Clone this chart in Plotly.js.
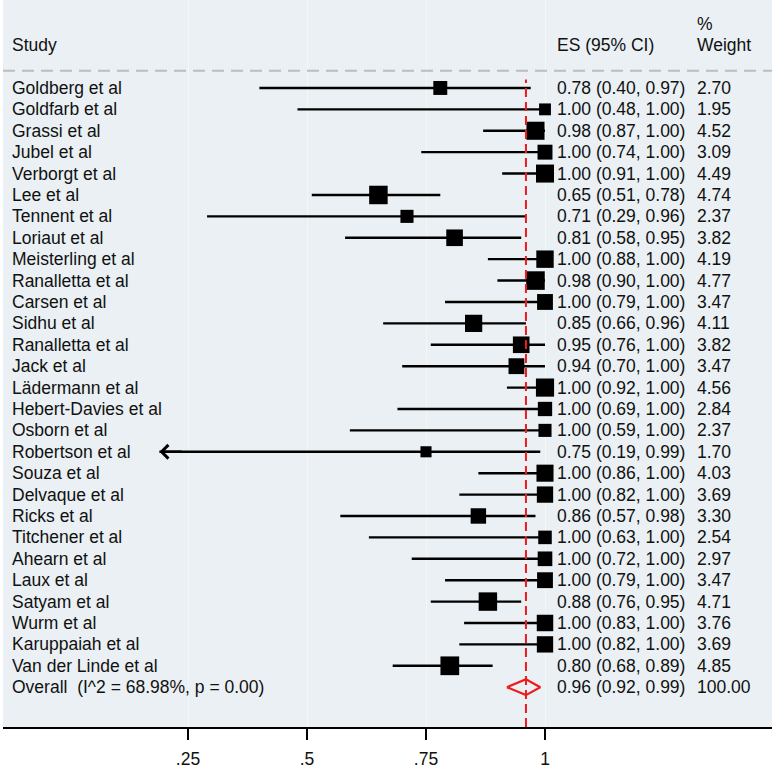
<!DOCTYPE html>
<html>
<head>
<meta charset="utf-8">
<script src="https://cdn.plot.ly/plotly-3.0.1.min.js"></script>
<style>html,body{margin:0;padding:0;background:#fff;}#chart{width:774px;height:772px;}</style>
</head>
<body>
<div id="chart"></div>
<script>
// ---- data ----
const studies = ["Goldberg et al","Goldfarb et al","Grassi et al","Jubel et al","Verborgt et al","Lee et al","Tennent et al","Loriaut et al","Meisterling et al","Ranalletta et al","Carsen et al","Sidhu et al","Ranalletta et al","Jack et al","Lädermann et al","Hebert-Davies et al","Osborn et al","Robertson et al","Souza et al","Delvaque et al","Ricks et al","Titchener et al","Ahearn et al","Laux et al","Satyam et al","Wurm et al","Karuppaiah et al","Van der Linde et al"];
const es    = [0.78,1.00,0.98,1.00,1.00,0.65,0.71,0.81,1.00,0.98,1.00,0.85,0.95,0.94,1.00,1.00,1.00,0.75,1.00,1.00,0.86,1.00,1.00,1.00,0.88,1.00,1.00,0.80];
const ciLow = [0.40,0.48,0.87,0.74,0.91,0.51,0.29,0.58,0.88,0.90,0.79,0.66,0.76,0.70,0.92,0.69,0.59,0.19,0.86,0.82,0.57,0.63,0.72,0.79,0.76,0.83,0.82,0.68];
const ciHigh= [0.97,1.00,1.00,1.00,1.00,0.78,0.96,0.95,1.00,1.00,1.00,0.96,1.00,1.00,1.00,1.00,1.00,0.99,1.00,1.00,0.98,1.00,1.00,1.00,0.95,1.00,1.00,0.89];
const weights=[2.70,1.95,4.52,3.09,4.49,4.74,2.37,3.82,4.19,4.77,3.47,4.11,3.82,3.47,4.56,2.84,2.37,1.70,4.03,3.69,3.30,2.54,2.97,3.47,4.71,3.76,3.69,4.85];
const overallLabel = "Overall  (I^2 = 68.98%, p = 0.00)";
const overallES = 0.96, overallLow = 0.92, overallHigh = 0.99, overallWeight = "100.00";
const tickVals = [0.25,0.5,0.75,1];
const tickText = [".25",".5",".75","1"];

// ---- build ----
const n = studies.length;
const rows = studies.map((_, i) => i);
const overallRow = n;
const fmt = v => v.toFixed(2);

const ciX = [], ciY = [];
for (let i = 0; i < n; i++) { ciX.push(ciLow[i], ciHigh[i], null); ciY.push(i, i, null); }

const font = "Liberation Sans, Arial, sans-serif";
const fs = 17.5;
const colStudy = -0.121, colES = 1.024, colW = 1.318;

const annotations = [];
function txt(x, y, t) {
  annotations.push({x: x, y: y, xref: 'x', yref: 'y', text: t, showarrow: false,
    xanchor: 'left', yanchor: 'middle', font: {family: font, size: fs, color: '#111'}, borderpad: 0});
}
txt(colStudy, -2, "Study");
txt(colES, -2, "ES (95% CI)");
txt(colW, -3, "%");
txt(colW, -2, "Weight");
for (let i = 0; i < n; i++) {
  txt(colStudy, i, studies[i]);
  txt(colES, i, fmt(es[i]) + " (" + fmt(ciLow[i]) + ", " + fmt(ciHigh[i]) + ")");
  txt(colW, i, weights[i].toFixed(2));
}
txt(colStudy, overallRow, overallLabel);
txt(colES, overallRow, fmt(overallES) + " (" + fmt(overallLow) + ", " + fmt(overallHigh) + ")");
txt(colW, overallRow, overallWeight);

// arrows for CIs truncated below the first tick
for (let i = 0; i < n; i++) {
  if (ciLow[i] < tickVals[0]) {
    annotations.push({x: ciLow[i], y: i, ax: ciLow[i] + 0.05, ay: i, xref: 'x', yref: 'y', axref: 'x', ayref: 'y',
      text: '', showarrow: true, arrowhead: 4, arrowsize: 1.1, arrowwidth: 2.4, arrowcolor: '#000'});
  }
}

const dh = 0.37;
const traces = [
  {x: ciX, y: ciY, mode: 'lines', line: {color: '#000', width: 2.4}, hoverinfo: 'skip'},
  {x: es, y: rows, mode: 'markers', marker: {symbol: 'square', color: '#000', opacity: 1,
    size: weights.map(w => 8.5 * Math.sqrt(w)), line: {width: 0}}},
  {x: [overallLow, overallES, overallHigh, overallES, overallLow],
   y: [overallRow, overallRow - dh, overallRow, overallRow + dh, overallRow],
   mode: 'lines', line: {color: '#ee1c1c', width: 2.2}}
];

const layout = {
  width: 774, height: 772,
  margin: {l: 3, r: 2, t: 0, b: 45},
  paper_bgcolor: '#ffffff', plot_bgcolor: '#eaf0f3',
  showlegend: false,
  font: {family: font, size: fs, color: '#111'},
  xaxis: {range: [-0.1387, 1.4769], tickvals: tickVals, ticktext: tickText,
    showgrid: true, gridcolor: '#f4f7f8', gridwidth: 1, zeroline: false,
    showline: true, linecolor: '#000', linewidth: 1.6,
    ticks: 'outside', ticklen: 11, tickwidth: 1.3, tickcolor: '#000',
    ticklabelstandoff: 4, tickfont: {family: font, size: fs, color: '#111'}, fixedrange: true},
  yaxis: {range: [29.86, -4.11], showgrid: false, zeroline: false, showticklabels: false,
    showline: false, ticks: '', fixedrange: true},
  shapes: [
    {type: 'line', xref: 'paper', yref: 'y', x0: 0, x1: 1, y0: -0.8, y1: -0.8,
     line: {color: '#bdbdbd', width: 2, dash: '12px,7px'}},
    {type: 'line', xref: 'x', yref: 'paper', x0: overallES, x1: overallES, y0: 0, y1: (29.86 + 0.4) / (29.86 + 4.11),
     line: {color: '#ee1c1c', width: 2, dash: '9px,5px'}}
  ],
  annotations: annotations
};

Plotly.newPlot('chart', traces, layout, {displayModeBar: false, staticPlot: true});
</script>
</body>
</html>
